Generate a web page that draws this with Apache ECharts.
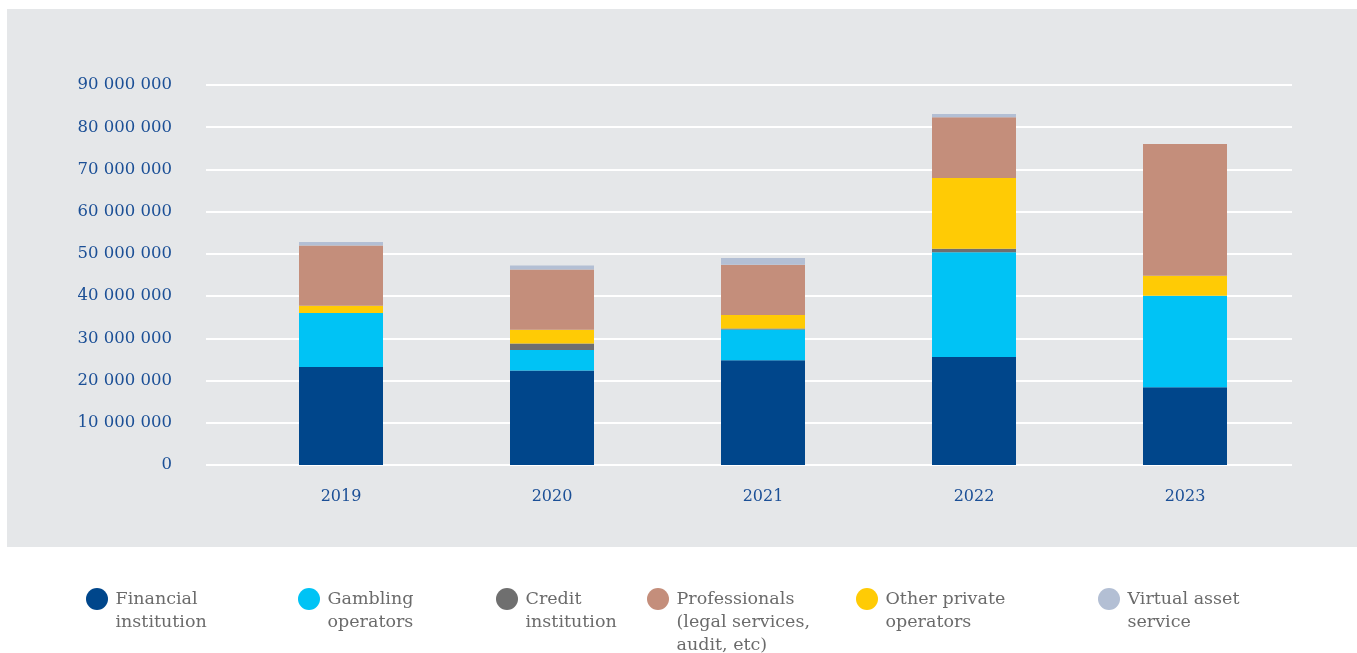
<!DOCTYPE html>
<html>
<head>
<meta charset="utf-8">
<script src="https://cdn.jsdelivr.net/npm/echarts@6/dist/echarts.min.js"></script>
<style>
  html, body { margin: 0; padding: 0; background: #ffffff; }
  #chart { width: 1357px; height: 653px; }
</style>
</head>
<body>
<div id="chart"></div>
<script>
// Reporting years
const years = ['2019', '2020', '2021', '2022', '2023'];

// Amounts per sector of reporting entity
const financialInstitution = [23200000, 22400000, 24800000, 25600000, 18400000];
const gamblingOperators    = [12800000, 4850000, 7300000, 24800000, 21700000];
const creditInstitution    = [0, 1500000, 200000, 800000, 0];
const professionals        = [14300000, 14250000, 11900000, 14350000, 31200000];
const otherPrivate         = [1700000, 3300000, 3200000, 16800000, 4750000];
const virtualAsset         = [800000, 950000, 1650000, 800000, 0];

// Y-axis ticks
const yMin = 0;
const yMax = 90000000;
const yStep = 10000000;

// Legend entries, left to right
const legendDefs = [
  { name: 'Financial institution', label: 'Financial\ninstitution', left: 86 },
  { name: 'Gambling operators', label: 'Gambling\noperators', left: 298 },
  { name: 'Credit institution', label: 'Credit\ninstitution', left: 496 },
  { name: 'Professionals (legal services, audit, etc)', label: 'Professionals\n(legal services,\naudit, etc)', left: 647 },
  { name: 'Other private operators', label: 'Other private\noperators', left: 856 },
  { name: 'Virtual asset service', label: 'Virtual asset\nservice', left: 1098 }
];

// Stack order, bottom to top
const stackDefs = [
  { name: 'Financial institution', data: financialInstitution, color: '#00468b' },
  { name: 'Gambling operators', data: gamblingOperators, color: '#00c3f5' },
  { name: 'Credit institution', data: creditInstitution, color: '#6f6f6f' },
  { name: 'Other private operators', data: otherPrivate, color: '#ffcb05' },
  { name: 'Professionals (legal services, audit, etc)', data: professionals, color: '#c48e7b' },
  { name: 'Virtual asset service', data: virtualAsset, color: '#b3bfd4' }
];

const FONT = 'DejaVu Serif';
const AXIS_BLUE = '#1b4f96';
const LEGEND_GREY = '#6b6b6b';
const LH = 23;
const legendCenterY = 599;

function spaced(v) {
  return String(v).replace(/\B(?=(\d{3})+(?!\d))/g, ' ');
}

const legends = legendDefs.map(function (d) {
  const n = d.label.split('\n').length;
  // leading blank lines keep the first text line level with the marker
  const text = '\n'.repeat(n - 1) + d.label;
  return {
    data: [d.name],
    left: d.left,
    top: legendCenterY - (2 * n - 1) * LH / 2,
    padding: 0,
    icon: 'circle',
    itemWidth: 27,
    itemHeight: 22,
    itemGap: 0,
    selectedMode: false,
    formatter: function () { return text; },
    textStyle: {
      fontFamily: FONT,
      fontSize: 17.5,
      color: LEGEND_GREY,
      lineHeight: LH
    }
  };
});

const chart = echarts.init(document.getElementById('chart'), null, { renderer: 'canvas' });

chart.setOption({
  backgroundColor: '#ffffff',
  animation: false,
  graphic: [{
    type: 'rect',
    z: -10,
    silent: true,
    shape: { x: 7, y: 9, width: 1350, height: 538 },
    style: { fill: '#e5e7e9' }
  }],
  legend: legends,
  grid: [
    // value scale and gridlines
    { left: 206, right: 65, top: 85, height: 380 },
    // bars and year labels
    { left: 235.5, right: 66.5, top: 85, height: 380 }
  ],
  xAxis: [
    { type: 'category', gridIndex: 0, data: years, show: false },
    {
      type: 'category',
      gridIndex: 1,
      data: years,
      axisLine: { show: false },
      axisTick: { show: false },
      axisLabel: {
        color: AXIS_BLUE,
        fontFamily: FONT,
        fontSize: 16,
        margin: 24
      }
    }
  ],
  yAxis: [
    {
      type: 'value',
      gridIndex: 0,
      min: yMin,
      max: yMax,
      interval: yStep,
      axisLine: { show: false },
      axisTick: { show: false },
      splitLine: { lineStyle: { color: '#ffffff', width: 2 } },
      axisLabel: {
        color: AXIS_BLUE,
        fontFamily: FONT,
        fontSize: 16.5,
        margin: 34,
        formatter: spaced
      }
    },
    {
      type: 'value',
      gridIndex: 1,
      min: yMin,
      max: yMax,
      interval: yStep,
      show: false,
      splitLine: { show: false }
    }
  ],
  series: stackDefs.map(function (d) {
    return {
      name: d.name,
      type: 'bar',
      xAxisIndex: 1,
      yAxisIndex: 1,
      stack: 'total',
      barWidth: 84,
      data: d.data,
      itemStyle: { color: d.color },
      emphasis: { disabled: true }
    };
  })
});
</script>
</body>
</html>
